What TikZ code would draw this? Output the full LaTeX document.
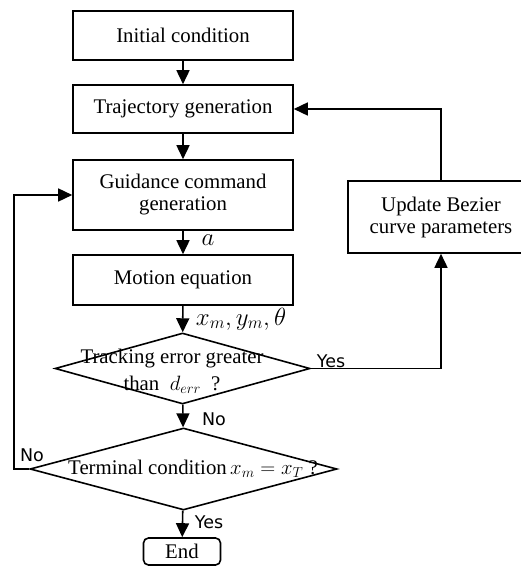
\documentclass[tikz,border=0pt]{standalone}
\usepackage{fontspec}
\setmainfont{Liberation Serif}
\newfontfamily\tagfont{DejaVu Sans}
\usetikzlibrary{shapes.geometric,arrows.meta}
\newcommand{\bigmath}[1]{{\fontsize{22}{24}\selectfont $#1$}}
\tikzset{
  block/.style={draw, line width=1.6pt, minimum width=220pt, align=center, font=\fontsize{20.8}{22}\selectfont},
  decision/.style={draw, diamond, line width=1.6pt, inner sep=0pt},
  flow/.style={line width=1.6pt, -{Triangle[length=14pt,width=13pt]}},
  tag/.style={font=\tagfont\fontsize{17.5}{20}\selectfont},
  mtext/.style={font=\fontsize{20.8}{22}\selectfont, align=center},
  mlabel/.style={font=\fontsize{23}{25}\selectfont}
}
\begin{document}
\begin{tikzpicture}[x=1pt,y=-1pt]
    \useasboundingbox (0,0) rectangle (521,567);
    % main column
    \node[block, minimum height=49pt] (init) at (183,35.5) {Initial condition};
    \node[block, minimum height=48pt] (traj) at (183,109) {Trajectory generation};
    \node[block, minimum height=70pt] (guid) at (183,195) {Guidance command\\generation};
    \node[block, minimum height=50pt] (motion) at (183,280) {Motion equation};
    \node[decision, minimum width=255pt, minimum height=71pt] (dec1) at (182.5,368.5) {};
    \node[mtext] (dec1txt) at (172,371) {Tracking error greater\\[5pt]than \ \bigmath{d_{err}} \ ?};
    \node[decision, minimum width=307pt, minimum height=82pt] (dec2) at (183.5,469) {};
    \node[mtext] (dec2txt) at (193,469) {Terminal condition\,\bigmath{x_m = x_T} ?};
    \node[block, minimum width=77pt, minimum height=27pt, rounded corners=5pt] (stop) at (182,551.5) {End};
    % feedback box
    \node[block, minimum width=186pt, minimum height=72pt] (upd) at (441,217) {Update Bezier\\curve parameters};
    \coordinate (nobend) at (14,469);
    % connectors
    \draw[flow] (init) -- (traj);
    \draw[flow] (traj) -- (guid);
    \draw[flow] (guid) -- (motion);
    \draw[flow] (motion) -- (dec1);
    \draw[flow] (dec1) -- (dec2);
    \draw[flow] (dec2) -- (stop);
    \draw[flow] (dec1.east) -| (upd.south);
    \draw[flow] (upd.north) |- (traj.east);
    \draw[flow] (dec2.west) -- (nobend) |- (guid.west);
    % labels
    \node[mlabel] (lbla) at (208,240) {$a$};
    \node[mlabel] (lblx) at (241,319) {$x_m, y_m, \theta$};
    \node[tag] (yes1) at (331,361) {Yes};
    \node[tag] (no1) at (214,419) {No};
    \node[tag] (no2) at (32,455) {No};
    \node[tag] (yes2) at (209,522) {Yes};
\end{tikzpicture}
\end{document}
